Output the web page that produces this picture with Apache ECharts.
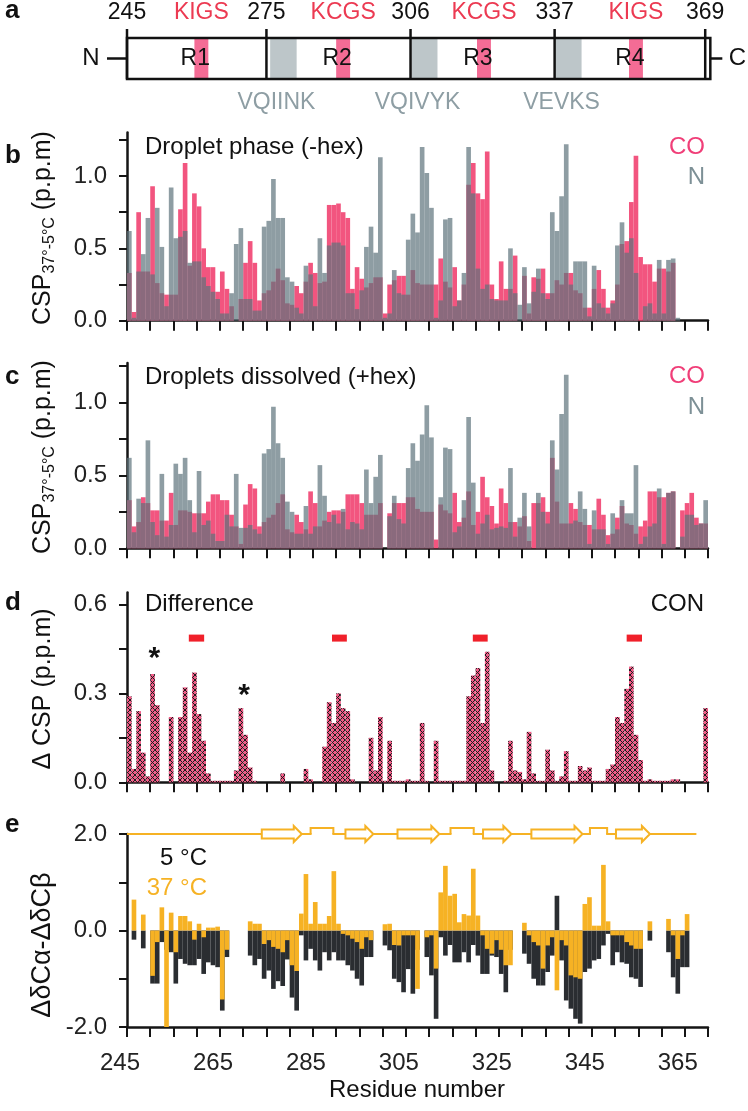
<!DOCTYPE html>
<html><head><meta charset="utf-8">
<script src="https://cdn.jsdelivr.net/npm/echarts@6/dist/echarts.min.js"></script>
<style>html,body{margin:0;padding:0;background:#fff}#c{width:748px;height:1111px}</style>
</head><body><div id="c"></div>
<script>
// ---------- DATA (residues 245..369, one value per residue) ----------
const firstResidue = 245;
const xTickLabels = ['245','265','285','305','325','345','365'];

// panel b: droplet phase (-hex)
const bN = [.62,.02,.34,.46,.71,.32,.78,.51,.10,.92, .57,.58,.62,.40,.41,.41,.30,.24,.20,.15,
 .05,.05,.19,.53,.64,.15,.15,.07,.07,.65, .69,.98,.71,.71,.30,.27,.09,.05,.38,.32,
 .10,.57,.33,.52,.54,.54,.52,.19,.19,.08, .21,.51,.65,.47,1.13,.02,.05,.35,.19,.18,
 .56,.74,.61,1.20,1.02,.78,.02,.14,.70,.71, .10,.14,.33,1.20,.88,.36,.22,.25,.15,.14,
 .14,.14,.50,.19,.11,.37,.12,.20,.36,.19, .15,.75,.62,.86,1.22,.25,.41,.41,.41,.03,
 .38,.12,.09,.05,.12,.52,.68,.47,.57,.33, 0,.10,.12,.05,.42,.05,.42,.43,.02,0, 0,0,0,0,0];
const bCO = [.33,.06,.75,.34,.34,.93,.26,.19,.18,.18, .18,.77,1.09,.38,.88,.79,.50,.37,.37,.20,
 .34,.22,.10,0,.15,.40,.55,.40,.14,.19, .21,.27,.36,.28,.12,.11,.24,.19,.27,.40,
 .33,.26,.27,.80,.80,.81,.75,.71,.22,.37, .29,.23,.26,.30,.30,.05,.25,.28,.31,.31,
 .18,.35,.26,.25,.25,.25,.25,.43,.27,.23, .37,.14,.25,.94,1.09,.88,.84,1.17,.25,.15,
 .41,.22,.22,.45,0,.31,.05,.30,.29,.36, .19,.19,.28,.25,.33,.33,.21,.19,.09,.09,
 .22,.35,.22,.09,.14,.25,.53,.55,.82,1.14, .44,.39,.39,.27,.36,.36,.34,.40,0,0, 0,0,0,0,0];

// panel c: droplets dissolved (+hex)
const cN = [.62,.11,.34,.31,.74,.18,.09,.51,.08,.16, .58,.51,.62,.33,.11,.53,.16,.19,.10,.05,
 .05,.23,.15,.51,.14,.14,.16,.13,.10,.65, .68,.97,.72,.62,.32,.25,.10,.10,.29,.10,
 .15,.57,.36,.18,.23,.17,.27,.13,.18,.17, .13,.54,.31,.49,.64,0,.22,.36,.20,.17,
 .55,.72,.60,.78,.98,.76,0,.35,.69,.68, .11,.15,.33,.90,.45,.10,.17,.23,.13,.14,
 .15,.14,.55,.08,.21,.38,.15,0,.38,.25, .17,.74,.54,.92,1.19,.17,.19,.39,.27,.03,
 .26,.13,.13,.03,.24,.13,.33,.24,.24,.57, .03,.08,.15,.17,.41,.03,.38,.39,0,.08, .23,.23,.16,.17,.33];
const cCO = [.33,.15,.18,.35,.31,.26,.26,.19,.19,.38, .16,.26,.26,.25,.24,.24,.24,.32,.37,.37,
 .33,.33,.23,.15,.03,.30,.44,.41,.15,.18, .21,.23,.31,.37,.13,.11,.23,.18,.13,.39,
 .31,.15,.19,.25,.26,.26,.25,.37,.37,.37, .31,.23,.23,.23,.31,0,.24,.31,.31,.31,
 .35,.35,.27,.25,.25,.25,.06,.30,.26,.24, .38,.18,.21,.39,.16,.25,.49,.35,.29,.17,
 .41,.31,.18,.18,.15,.22,.05,.31,.31,.35, .25,.62,.32,.17,.17,.31,.27,.18,.16,.16,
 .13,.34,.23,.09,.10,.21,.29,.17,.16,.10, .15,.19,.39,.39,.35,.35,.38,.39,0,.26, .31,.38,.21,.17,.17];

// panel d: difference
const dDiff = [.29,.045,.24,.10,.02,.365,.26,0,0,.22, 0,.22,.32,.10,.37,.23,.14,.03,.005,.005,
 .005,.005,.005,.04,.25,.16,.05,.005,0,0, 0,0,0,.03,0,0,0,0,.045,.01,
 0,0,.12,.27,.20,.30,.25,.24,.01,0, 0,0,.15,.04,.22,.005,.14,.005,.005,.005,
 .01,.005,.005,.20,.005,0,.14,.005,.005,.005, .005,.005,.005,.29,.36,.385,.20,.44,.04,0,
 0,.005,.14,.04,.035,.01,.17,.03,.005,.005, .11,.04,.005,.02,.105,.005,.005,.055,.04,.05,
 .005,.005,.005,.045,.06,.22,.20,.315,.39,.16, .075,.005,.01,.005,.005,.005,.005,.01,.01,0, 0,0,0,0,.25];
const dashStart = [258.3, 289.1, 319.4, 352.5];
const dashEnd   = [261.6, 292.3, 322.6, 355.8];
const dashLevel = 0.486;
const starRes = [250.9, 270.2];
const starVal = [0.44, 0.315];

// panel e: secondary chemical shifts
const e5 = [null,-.19,null,-.37,null,-1.1,-1.1,-.24,-.4,-.45, -1.1,-.59,-.69,-.72,-.72,-.59,-.9,-.66,-.72,-.76,
 -1.66,-.55,null,null,null,null,-.52,-.72,-.59,-1.0, -.83,-1.21,-1.05,-1.15,-.6,-1.39,-1.66,-.1,-.62,-.38,
 -.62,-.83,-.45,-.62,-.45,-.62,-.62,-.72,-.83,-1.0, -1.14,-.55,-.55,null,null,-.31,-.41,-1.0,-1.07,-1.28,
 -.8,-1.31,-.4,null,-.55,-.93,-1.83,-.14,-.52,-.3, -.66,-.66,-.45,-.66,-.3,-.52,-.9,-.9,-.52,-.55,
 -.9,-1.28,-.4,null,null,-.48,-.69,-1.0,-1.14,-1.14, -.86,-.52,.72,-.62,-1.45,-1.62,-1.83,-1.93,-.86,-.79,
 -.62,-.59,-.31,-.07,-.72,-.45,-.66,-.69,-.97,-1.0, -1.17,null,-.21,null,null,null,-.45,-.97,-1.31,-.76, -.76,null,null,null,null];
const e37 = [null,.64,null,.33,null,-.94,-.24,.48,-2.0,.37, -.45,.30,.30,.19,-.19,.14,-.14,.06,.06,.08,
 -1.43,-.4,null,null,null,null,.19,.14,.14,-.28, -.2,-.34,-.38,-.45,-.2,-.72,-.84,.35,1.17,.14,
 .59,.14,.14,.30,1.23,.14,-.07,-.1,-.17,-.24, -.38,-.14,-.2,null,null,.13,.14,-.3,-.31,-.1,
 -.1,-.1,-1.21,null,-.14,-.1,-.79,.79,1.34,.72, .76,.17,.34,.31,1.28,.31,-.1,-.38,-.48,-.2,
 -.4,-.72,-.72,null,null,.16,-.1,-.24,-.31,-.79, -.31,-.14,-1.24,-.2,-.31,-.93,-.97,-1.0,.55,.69,
 .10,.10,1.36,.19,-.1,-.1,-.1,-.24,-.31,-.38, -.38,null,.19,null,null,null,.24,-.1,-.59,-.1, .34,null,null,null,null];
const strandStart = [274, 292, 303.2, 321.6, 332, 350.2];
const strandEnd   = [282.6, 298, 312.2, 327.7, 343, 357.5];
const turnStart = [284.5, 314.6, 344.6];
const turnEnd   = [289.4, 319.6, 348.3];
const ssLineEnd = 367.5;

// panel a: domain map
const domainBoxEnd = 370.5;
const domainLines = [245, 275, 306, 337, 369.4];
const domainLineLabels = ['245','275','306','337','369'];
const repeatNames = ['R1','R2','R3','R4'];
const motifNames = ['KIGS','KCGS','KCGS','KIGS'];
const motifStart = [259.5, 290, 320.3, 353];
const motifEnd   = [262.5, 293, 323.3, 356];
const hexNames = ['VQIINK','VQIVYK','VEVKS'];
const hexStart = [275.8, 306.2, 337.2];
const hexEnd   = [281.5, 311.8, 342.8];

// ---------- STYLE ----------
const FF = "'Liberation Sans', Arial, Helvetica, sans-serif";
const PINK = '#F2557F', GRAYA = 'rgba(94,116,124,0.7)', ORANGE = '#F6B224', DARK = '#2A2D31';
const AXC = '#151515';

function pairs(arr){ const o=[]; arr.forEach((v,i)=>{ if(v!==null) o.push([firstResidue+i, v]); }); return o; }
function rectBar(fill){
  return function(params, api){
    const r = api.value(0), v = api.value(1);
    if (!v) return null;
    const p0 = api.coord([r, 0]), p1 = api.coord([r+1, v]);
    return {type:'rect', shape:{x:p0[0], y:Math.min(p0[1],p1[1]), width:p1[0]-p0[0], height:Math.abs(p1[1]-p0[1])}, style:{fill:fill}};
  };
}
function hatch(){
  const n=5, c=document.createElement('canvas'); c.width=n; c.height=n;
  const g=c.getContext('2d'); g.fillStyle='#F05A86'; g.fillRect(0,0,n,n);
  g.fillStyle='#1c1c1c'; for(let i=0;i<n;i++){ g.fillRect(i,i,1,1); g.fillRect(n-1-i,i,1,1); }
  return c;
}
const hatchFill = {type:'pattern', image:hatch(), repeat:'repeat'};

const grids = [
  {left:127, width:581, top:38, height:41},
  {left:127, width:581, top:132.6, height:188.1},
  {left:127, width:581, top:363, height:185.3},
  {left:127, width:581, top:592.4, height:189.9},
  {left:127, width:581, top:834, height:193}
].map(g=>Object.assign({outerBoundsMode:'none', containLabel:false}, g));

function xAx(gi, show, labels){
  return {type:'value', gridIndex:gi, min:245, max:370, interval:5, show:show, position:'bottom',
    axisLine:{show:true, onZero:false, lineStyle:{color:AXC, width:2.5}},
    axisTick:{show:true, inside:false, length:10, lineStyle:{color:AXC, width:2}},
    axisLabel:{show:labels, fontFamily:FF, fontSize:24, color:'#222', margin:24, padding:[0,14,0,0],
      formatter:v=>{ const s=String(Math.round(v)); return xTickLabels.indexOf(s)>=0 ? s : ''; }},
    splitLine:{show:false}};
}
function yAx(gi, min, max, interval, ticks, labels){
  return {type:'value', gridIndex:gi, min:min, max:max, interval:interval,
    axisLine:{show:true, onZero:false, lineStyle:{color:AXC, width:2.5}},
    axisTick:{show:true, inside:false, length:8, customValues:ticks, lineStyle:{color:AXC, width:2}},
    axisLabel:{fontFamily:FF, fontSize:24, color:'#222', margin:20, customValues:labels,
      formatter:v=>{ return labels.some(l=>Math.abs(l-v)<1e-6) ? v.toFixed(1) : ''; }},
    splitLine:{show:false}};
}

function renderDomain(params, api){
  const X = r => api.coord([r, 0])[0];
  const y0 = api.coord([245, 1])[1], y1 = api.coord([245, 0])[1], ym = (y0+y1)/2;
  const ch = [];
  ch.push({type:'rect', shape:{x:X(245), y:y0, width:X(domainBoxEnd)-X(245), height:y1-y0}, style:{fill:'#fff'}});
  hexStart.forEach((s,i)=>ch.push({type:'rect', shape:{x:X(s), y:y0, width:X(hexEnd[i])-X(s), height:y1-y0}, style:{fill:'#BDC6C9'}}));
  motifStart.forEach((s,i)=>ch.push({type:'rect', shape:{x:X(s), y:y0, width:X(motifEnd[i])-X(s), height:y1-y0}, style:{fill:'#F46C95'}}));
  ch.push({type:'rect', shape:{x:X(245), y:y0, width:X(domainBoxEnd)-X(245), height:y1-y0}, style:{fill:null, stroke:'#111', lineWidth:2.5}});
  domainLines.forEach((r,i)=>{
    ch.push({type:'line', shape:{x1:X(r), y1:y0-9, x2:X(r), y2:y1}, style:{stroke:'#111', lineWidth:2.5}});
    ch.push({type:'text', x:X(r), y:y0-25, style:{text:domainLineLabels[i], font:'23px '+FF, fill:'#111', align:'center', verticalAlign:'middle'}});
  });
  motifStart.forEach((s,i)=>{
    const c = (s+motifEnd[i])/2;
    ch.push({type:'text', x:X(c), y:y0-25, style:{text:motifNames[i], font:'23px '+FF, fill:'#EC3A52', align:'center', verticalAlign:'middle'}});
    ch.push({type:'text', x:X(c-1.3), y:ym, style:{text:repeatNames[i], font:'23px '+FF, fill:'#111', align:'center', verticalAlign:'middle'}});
  });
  hexStart.forEach((s,i)=>{
    const c = (s+hexEnd[i])/2 - 1.5;
    ch.push({type:'text', x:X(c), y:y1+24, style:{text:hexNames[i], font:'23px '+FF, fill:'#8E9EA4', align:'center', verticalAlign:'middle'}});
  });
  ch.push({type:'line', shape:{x1:X(245)-20, y1:ym, x2:X(245), y2:ym}, style:{stroke:'#111', lineWidth:2.5}});
  ch.push({type:'text', x:X(245)-36, y:ym, style:{text:'N', font:'24px '+FF, fill:'#111', align:'center', verticalAlign:'middle'}});
  ch.push({type:'line', shape:{x1:X(domainBoxEnd), y1:ym, x2:X(domainBoxEnd)+12, y2:ym}, style:{stroke:'#111', lineWidth:2.5}});
  ch.push({type:'text', x:X(domainBoxEnd)+27, y:ym, style:{text:'C', font:'24px '+FF, fill:'#111', align:'center', verticalAlign:'middle'}});
  return {type:'group', children:ch};
}

function renderSS(params, api){
  const X = r => api.coord([r, 2])[0];
  const y = api.coord([245, 2])[1];
  const st = {stroke:ORANGE, lineWidth:2, fill:null};
  const ch = [];
  ch.push({type:'line', shape:{x1:X(245), y1:y, x2:X(ssLineEnd), y2:y}, style:{stroke:ORANGE, lineWidth:2}});
  turnStart.forEach((s,i)=>{
    const a=X(s), b=X(turnEnd[i]);
    ch.push({type:'rect', shape:{x:a+1, y:y-2, width:b-a-2, height:4}, style:{fill:'#fff'}});
    ch.push({type:'polyline', shape:{points:[[a,y],[a,y-6],[b,y-6],[b,y]]}, style:st});
  });
  strandStart.forEach((s,i)=>{
    const a=X(s), b=X(strandEnd[i]), h=b-8;
    ch.push({type:'polygon', shape:{points:[[a,y-4.5],[h,y-4.5],[h,y-8],[b,y],[h,y+8],[h,y+4.5],[a,y+4.5]]}, style:{stroke:ORANGE, lineWidth:2, fill:'#fff'}});
  });
  return {type:'group', children:ch};
}

function renderDash(params, api){
  const a = api.coord([api.value(0), api.value(2)]), b = api.coord([api.value(1), api.value(2)]);
  return {type:'rect', shape:{x:a[0], y:a[1]-3.5, width:b[0]-a[0], height:7}, style:{fill:'#F0202A'}};
}
function renderStar(params, api){
  const p = api.coord([api.value(0), api.value(1)]);
  return {type:'text', x:p[0], y:p[1]+7, style:{text:'*', font:'bold 30px '+FF, fill:'#111', align:'center', verticalAlign:'middle'}};
}

function T(text, x, y, opt){
  return {type:'text', x:x, y:y, silent:true, style:Object.assign({text:text, font:'24px '+FF, fill:'#111', align:'left', verticalAlign:'middle', textAlign:'left', textVerticalAlign:'middle'}, opt||{})};
}
function R(text, x, y, size){
  const fs = size || 24;
  return {type:'text', x:x, y:y, rotation:Math.PI/2, silent:true,
    style:{text:text, font:fs+'px '+FF, fill:'#111', align:'center', verticalAlign:'middle', textAlign:'center', textVerticalAlign:'middle',
      rich:{s:{font:'16px '+FF, fill:'#111', padding:[14,0,0,0]}}}};
}

const graphicEls = [
  T('a', 5, 11, {font:'bold 26px '+FF}),
  T('b', 5, 156, {font:'bold 26px '+FF}),
  T('c', 5, 377, {font:'bold 26px '+FF}),
  T('d', 5, 603, {font:'bold 26px '+FF}),
  T('e', 5, 825, {font:'bold 26px '+FF}),
  T('Droplet phase (-hex)', 145, 147),
  T('CO', 705, 147, {fill:'#F03E78', align:'right', textAlign:'right'}),
  T('N', 705, 177, {fill:'#7D9096', align:'right', textAlign:'right'}),
  T('Droplets dissolved (+hex)', 145, 377),
  T('CO', 705, 376, {fill:'#F03E78', align:'right', textAlign:'right'}),
  T('N', 705, 407, {fill:'#7D9096', align:'right', textAlign:'right'}),
  T('Difference', 145, 604),
  T('CON', 704, 604, {align:'right', textAlign:'right'}),
  T('5 °C', 207, 858, {align:'right', textAlign:'right'}),
  T('37 °C', 207, 888, {fill:ORANGE, align:'right', textAlign:'right'}),
  R('CSP{s|37°-5°C} (p.p.m)', 43, 228, 25),
  R('CSP{s|37°-5°C} (p.p.m)', 43, 457, 25),
  R('Δ CSP (p.p.m)', 43, 689, 25),
  R('ΔδCα-ΔδCβ', 43, 945, 27),
  T('Residue number', 417, 1090, {align:'center', textAlign:'center'})
];

const option = {
  animation:false,
  backgroundColor:'#fff',
  grid: grids,
  xAxis:[xAx(0,false,false), xAx(1,true,false), xAx(2,true,false), xAx(3,true,false), xAx(4,true,true)],
  yAxis:[
    {type:'value', gridIndex:0, min:0, max:1, show:false},
    yAx(1, 0, 1.3, 0.25, [0,.25,.5,.75,1,1.25], [0,.5,1]),
    yAx(2, 0, 1.27, 0.25, [0,.25,.5,.75,1,1.25], [0,.5,1]),
    yAx(3, 0, 0.64, 0.15, [0,.15,.3,.45,.6], [0,.3,.6]),
    yAx(4, -2, 2, 1, [-2,-1,0,1,2], [-2,0,2])
  ],
  series:[
    {type:'custom', xAxisIndex:0, yAxisIndex:0, data:[[0,0]], renderItem:renderDomain, clip:false, silent:true},
    {type:'custom', name:'CO', xAxisIndex:1, yAxisIndex:1, data:pairs(bCO), renderItem:rectBar(PINK), clip:false},
    {type:'custom', name:'N', xAxisIndex:1, yAxisIndex:1, data:pairs(bN), renderItem:rectBar(GRAYA), clip:false},
    {type:'custom', name:'CO', xAxisIndex:2, yAxisIndex:2, data:pairs(cCO), renderItem:rectBar(PINK), clip:false},
    {type:'custom', name:'N', xAxisIndex:2, yAxisIndex:2, data:pairs(cN), renderItem:rectBar(GRAYA), clip:false},
    {type:'custom', name:'CON', xAxisIndex:3, yAxisIndex:3, data:pairs(dDiff), renderItem:rectBar(hatchFill), clip:false},
    {type:'custom', xAxisIndex:3, yAxisIndex:3, data:dashStart.map((s,i)=>[s, dashEnd[i], dashLevel]), renderItem:renderDash, clip:false},
    {type:'custom', xAxisIndex:3, yAxisIndex:3, data:starRes.map((r,i)=>[r, starVal[i]]), renderItem:renderStar, clip:false},
    {type:'custom', name:'5 °C', xAxisIndex:4, yAxisIndex:4, data:pairs(e5), renderItem:rectBar(DARK), clip:false},
    {type:'custom', name:'37 °C', xAxisIndex:4, yAxisIndex:4, data:pairs(e37), renderItem:rectBar(ORANGE), clip:false},
    {type:'custom', xAxisIndex:4, yAxisIndex:4, data:[[0,0]], renderItem:renderSS, clip:false, silent:true}
  ],
  graphic:{elements:graphicEls}
};
const chart = echarts.init(document.getElementById('c'), null, {renderer:'canvas'});
chart.setOption(option);
</script></body></html>
